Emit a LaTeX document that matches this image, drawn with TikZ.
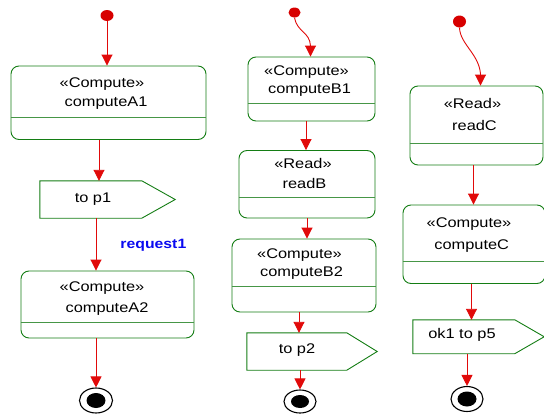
\documentclass[tikz,border=0pt]{standalone}
\usepackage{fontspec}
\setmainfont{Liberation Sans}[FakeStretch=1.17]
\usetikzlibrary{arrows.meta,shapes.geometric}
\definecolor{boxgreen}{RGB}{20,125,20}
\definecolor{divgreen}{RGB}{70,150,70}
\definecolor{flowred}{RGB}{225,10,10}
\definecolor{dotred}{RGB}{215,0,0}
\definecolor{lblblue}{RGB}{10,10,240}
\tikzset{
  actbox/.style={draw=boxgreen, line width=0.9pt, rounded corners=8pt, inner sep=0pt},
  sigarea/.style={inner sep=0pt},
  sigbox/.style={draw=boxgreen, line width=0.9pt},
  divl/.style={draw=divgreen, line width=0.9pt},
  flow/.style={draw=flowred, line width=0.9pt, -{Triangle[length=11pt,width=11pt]}},
  initdot/.style={ellipse, fill=dotred, inner sep=0pt, minimum width=13pt, minimum height=11pt},
  finalout/.style={ellipse, draw=black, line width=1.1pt, fill=white, inner sep=0pt},
  finalin/.style={ellipse, fill=black, inner sep=0pt},
  txt/.style={font=\fontsize{14}{16}\selectfont, inner sep=0pt, anchor=base, text=black},
  lbl/.style={font=\fontsize{13.5}{16}\selectfont\bfseries, inner sep=0pt, text=lblblue}
}
\begin{document}
\begin{tikzpicture}[x=1pt,y=-1pt]
\useasboundingbox (0,0) rectangle (544,418);

% ---------- column A ----------
\node[actbox, minimum width=195pt, minimum height=73.5pt] (A1) at (108.5,102.75) {};
\draw[divl] (A1.west |- 0,117) -- (A1.east |- 0,117);
\node[txt] (A1s) at (102,87) {«Compute»};
\node[txt] (A1n) at (106,106.5) {computeA1};

\node[sigarea, minimum width=135pt, minimum height=37pt] (P1) at (107.5,199.5) {};
\draw[sigbox] (P1.north west) -- ([xshift=102pt]P1.north west) -- (P1.east) -- ([xshift=102pt]P1.south west) -- (P1.south west) -- cycle;
\node[txt] (P1t) at (93,202) {to p1};

\node[actbox, minimum width=173pt, minimum height=67pt] (A2) at (107.5,304.5) {};
\draw[divl] (A2.west |- 0,322) -- (A2.east |- 0,322);
\node[txt] (A2s) at (102,291) {«Compute»};
\node[txt] (A2n) at (107,312) {computeA2};

\node[initdot] (iA) at (107,15.5) {};
\node[finalout, minimum width=33pt, minimum height=25pt] (fA) at (96,400.5) {};
\node[finalin, minimum width=19pt, minimum height=15pt] (fAi) at (fA) {};

\draw[flow] (iA) -- (iA |- A1.north);
\draw[flow] ([xshift=-9.5pt]A1.south) -- ([xshift=-8.5pt]P1.north);
\draw[flow] ([xshift=-11.5pt]P1.south) -- node[lbl, pos=0.5, anchor=west, xshift=24pt, yshift=-1pt] (req) {request1} ([xshift=-11.5pt]A2.north);
\draw[flow] (fA |- A2.south) -- (fA);

% ---------- column B ----------
\node[actbox, minimum width=127pt, minimum height=64pt] (B1) at (311.5,89) {};
\draw[divl] (B1.west |- 0,103) -- (B1.east |- 0,103);
\node[txt] (B1s) at (306.5,75) {«Compute»};
\node[txt] (B1n) at (309.5,93) {computeB1};

\node[actbox, minimum width=136pt, minimum height=67.5pt] (RB) at (307,184.25) {};
\draw[divl] (RB.west |- 0,197.5) -- (RB.east |- 0,197.5);
\node[txt] (RBs) at (303,168) {«Read»};
\node[txt] (RBn) at (304.5,188) {readB};

\node[actbox, minimum width=144pt, minimum height=73pt] (B2) at (304,275.5) {};
\draw[divl] (B2.west |- 0,286.5) -- (B2.east |- 0,286.5);
\node[txt] (B2s) at (299.5,258.5) {«Compute»};
\node[txt] (B2n) at (301.5,276) {computeB2};

\node[sigarea, minimum width=130pt, minimum height=37pt] (P2) at (312,351.5) {};
\draw[sigbox] (P2.north west) -- ([xshift=100pt]P2.north west) -- (P2.east) -- ([xshift=100pt]P2.south west) -- (P2.south west) -- cycle;
\node[txt] (P2t) at (297,353) {to p2};

\node[initdot, minimum width=12pt, minimum height=10pt] (iB) at (294.5,12.5) {};
\node[finalout, minimum width=32pt, minimum height=23pt] (fB) at (300,401.5) {};
\node[finalin, minimum width=18pt, minimum height=13pt] (fBi) at (fB) {};

\draw[flow] (iB.south) .. controls (297,32) and (310,32) .. (310.5,46) -- ([xshift=-1pt]B1.north);
\draw[flow] ([xshift=-5.5pt]B1.south) -- ([xshift=-1pt]RB.north);
\draw[flow] (RB.south) -- ([xshift=3pt]B2.north);
\draw[flow] ([xshift=-5pt]B2.south) -- ([xshift=-13pt]P2.north);
\draw[flow] (fB |- P2.south) -- (fB);

% ---------- column C ----------
\node[actbox, minimum width=133pt, minimum height=79pt] (RC) at (476.5,125.5) {};
\draw[divl] (RC.west |- 0,143) -- (RC.east |- 0,143);
\node[txt] (RCs) at (472.5,108.5) {«Read»};
\node[txt] (RCn) at (474.5,130) {readC};

\node[actbox, minimum width=142pt, minimum height=78.5pt] (CC) at (474,244.25) {};
\draw[divl] (CC.west |- 0,261.5) -- (CC.east |- 0,261.5);
\node[txt] (CCs) at (469,227.7) {«Compute»};
\node[txt] (CCn) at (471.7,249.3) {computeC};

\node[sigarea, minimum width=131pt, minimum height=33.5pt] (P5) at (478.5,336.75) {};
\draw[sigbox] (P5.north west) -- ([xshift=102pt]P5.north west) -- (P5.east) -- ([xshift=102pt]P5.south west) -- (P5.south west) -- cycle;
\node[txt] (P5t) at (462,338) {ok1 to p5};

\node[initdot, minimum width=13pt, minimum height=12pt] (iC) at (459.5,21.5) {};
\node[finalout, minimum width=32pt, minimum height=25pt] (fC) at (467,399) {};
\node[finalin, minimum width=19pt, minimum height=15pt] (fCi) at (fC) {};

\draw[flow] (iC.south) .. controls (460,44) and (479,54) .. (480.5,74) -- ([xshift=4pt]RC.north);
\draw[flow] ([xshift=-3pt]RC.south) -- ([xshift=-0.5pt]CC.north);
\draw[flow] ([xshift=-2.5pt]CC.south) -- ([xshift=-7pt]P5.north);
\draw[flow] (fC |- P5.south) -- (fC);
\end{tikzpicture}
\end{document}
